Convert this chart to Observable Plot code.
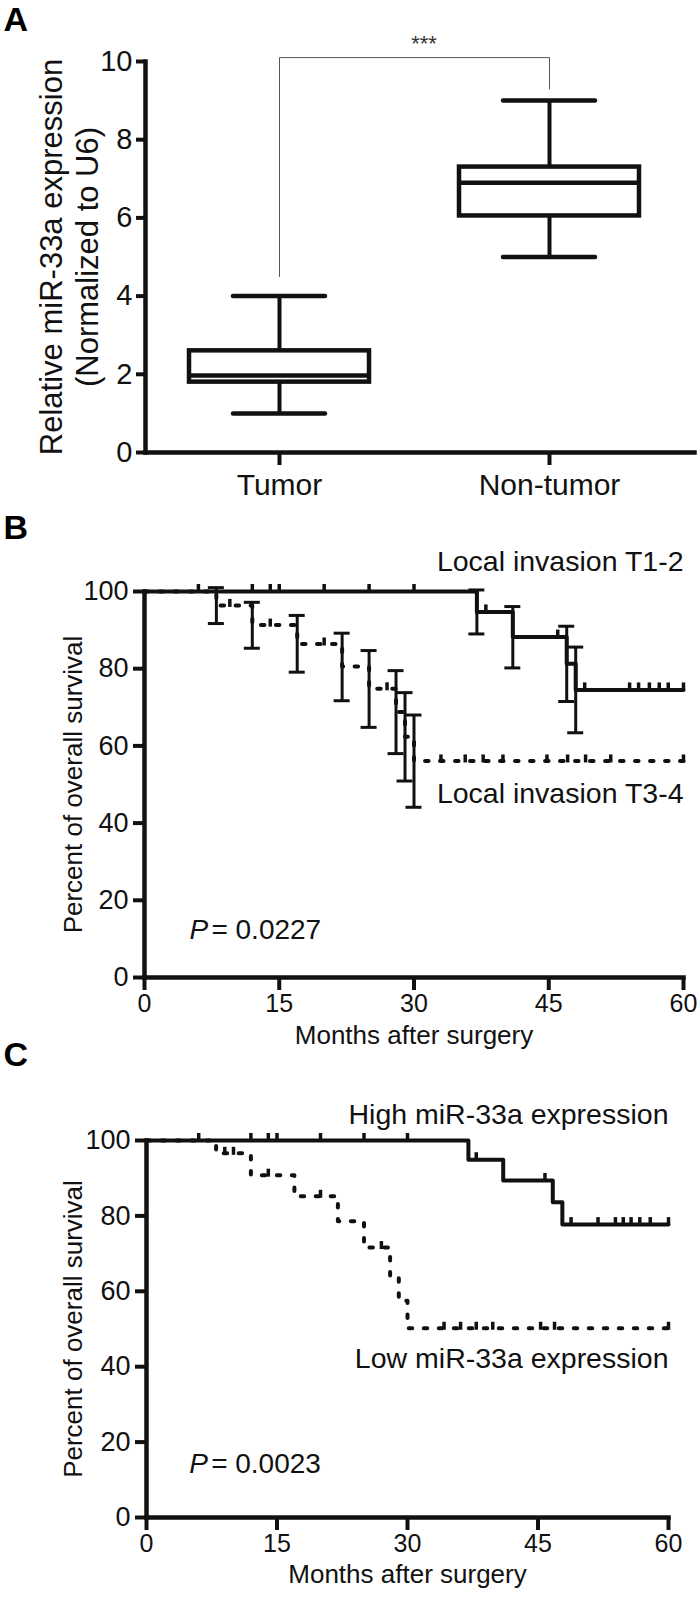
<!DOCTYPE html>
<html><head><meta charset="utf-8">
<script src="https://cdn.jsdelivr.net/npm/d3@7"></script>
<script src="https://cdn.jsdelivr.net/npm/@observablehq/plot@0.6"></script>
<style>
body{margin:0;background:#fff;}
#chart{width:700px;height:1597px;position:relative;background:#fff;}
#chart svg{display:block;overflow:visible;background:transparent;}
</style></head><body><div id="chart"></div>
<script>
// ---------- Panel A data ----------
const groups = ["Tumor", "Non-tumor"];
const boxMin = [1.0, 5.0];
const boxQ1 = [1.8, 6.05];
const boxMedian = [1.97, 6.9];
const boxQ3 = [2.6, 7.3];
const boxMax = [4.0, 9.0];
const yTicksA = [0, 2, 4, 6, 8, 10];
const sigLabel = "***";
const sigLeftY = 4.5, sigTopY = 10.1, sigRightY = 9.3, sigTextY = 10.45;
const yLabelA = "Relative miR-33a expression\n(Normalized to U6)";

// ---------- Panel B data ----------
const xTicks = [0, 15, 30, 45, 60];
const yTicksS = [0, 20, 40, 60, 80, 100];
const bT12Time = [0, 37, 41, 47, 48, 60];
const bT12Surv = [100, 94.7, 88.2, 81.3, 74.5, 74.5];
const bT12CensorTime = [6, 12, 14, 15, 20, 25, 30, 38, 46, 49, 54, 55, 56.2, 57.3, 58.3, 60];
const bT12ErrTime = [37, 41, 47, 48];
const bT12ErrLow = [89.0, 80.2, 71.5, 63.4];
const bT12ErrHigh = [100.4, 96.1, 91.0, 85.6];
const bT34Time = [0, 8, 12, 17, 22, 25, 28, 29, 30, 60];
const bT34Surv = [100, 96.4, 91.3, 86.4, 80.6, 74.8, 68.8, 62.4, 56.1, 56.1];
const bT34CensorTime = [9.5, 14, 20, 27, 33, 35.7, 37.7, 39.9, 44.8, 47.1, 49.1, 51.9, 60];
const bT34ErrTime = [8, 12, 17, 22, 25, 28, 29, 30];
const bT34ErrLow = [91.7, 85.3, 79.1, 71.7, 64.8, 58.0, 50.9, 44.1];
const bT34ErrHigh = [101.0, 97.2, 93.8, 89.2, 84.7, 79.5, 73.8, 68.0];
const bLabelHigh = "Local invasion T1-2", bLabelHighY = 107.6;
const bLabelLow = "Local invasion T3-4", bLabelLowY = 47.5;
const bPValue = "0.0227", bPx = 5.0, bPy = 12.2;

// ---------- Panel C data ----------
const cHighTime = [0, 37, 41, 46.7, 47.8, 60];
const cHighSurv = [100, 94.9, 89.4, 83.6, 77.7, 77.7];
const cHighCensorTime = [6, 12, 14, 15, 20, 25, 30, 37.9, 45.8, 48.8, 51.9, 53.9, 54.8, 55.7, 56.7, 57.9, 60];
const cLowTime = [0, 8, 12, 17, 22, 25, 28, 29, 30, 60];
const cLowSurv = [100, 96.6, 90.8, 85.2, 78.6, 71.6, 64.0, 57.5, 50.2, 50.2];
const cLowCensorTime = [9, 10, 14, 20, 27, 34.2, 36.1, 37.9, 39.8, 45.3, 46.9, 60];
const cLabelHigh = "High miR-33a expression", cLabelHighY = 106.7;
const cLabelLow = "Low miR-33a expression", cLabelLowY = 42.2;
const cPValue = "0.0023", cPx = 4.9, cPy = 14.2;

const xTitle = "Months after surgery";
const yTitleS = "Percent of overall survival";

// ---------- helpers ----------
const font = "'Liberation Sans', Arial, Helvetica, sans-serif";
const ink = "#111";
const zip2 = (a, b, ka, kb) => a.map((v, i) => ({[ka]: v, [kb]: b[i]}));
// survival value at time t for a step-after curve
const survAt = (times, surv, t) => { let s = surv[0]; for (let i = 0; i < times.length; i++) if (times[i] <= t) s = surv[i]; return s; };
const styleBase = {fontFamily: font, background: "transparent", overflow: "visible", color: ink};

const chart = document.getElementById("chart");

// ================= Panel A =================
const boxData = groups.map((g, i) => ({group: g, min: boxMin[i], q1: boxQ1[i], med: boxMedian[i], q3: boxQ3[i], max: boxMax[i]}));
const sigPath = [
  {group: groups[0], v: sigLeftY}, {group: groups[0], v: sigTopY},
  {group: groups[1], v: sigTopY}, {group: groups[1], v: sigRightY}
];
const plotA = Plot.plot({
  width: 700, height: 510,
  marginTop: 61, marginBottom: 58, marginLeft: 145, marginRight: 6,
  style: styleBase,
  x: {type: "band", domain: groups, range: [189, 639], paddingInner: 1 / 3, paddingOuter: 0, align: 0.5},
  y: {domain: [0, 10]},
  marks: [
    Plot.ruleX(boxData, {x: "group", y1: "min", y2: "q1", strokeWidth: 4, stroke: ink}),
    Plot.ruleX(boxData, {x: "group", y1: "q3", y2: "max", strokeWidth: 4, stroke: ink}),
    Plot.tickY(boxData, {x: "group", y: "min", strokeWidth: 4.5, insetLeft: 44, insetRight: 44, strokeLinecap: "round", stroke: ink}),
    Plot.tickY(boxData, {x: "group", y: "max", strokeWidth: 4.5, insetLeft: 44, insetRight: 44, strokeLinecap: "round", stroke: ink}),
    Plot.barY(boxData, {x: "group", y1: "q1", y2: "q3", fill: "white", stroke: ink, strokeWidth: 4.5}),
    Plot.tickY(boxData, {x: "group", y: "med", strokeWidth: 4.5, stroke: ink}),
    Plot.line(sigPath, {x: "group", y: "v", strokeWidth: 1, stroke: "#555"}),
    Plot.text([sigLabel], {text: d => d, y: () => sigTextY, dx: 4, fontSize: 22, fill: "#333"}),
    Plot.frame({anchor: "left", strokeWidth: 4.5, stroke: ink, strokeLinecap: "square"}),
    Plot.frame({anchor: "bottom", strokeWidth: 4.5, stroke: ink, strokeLinecap: "square"}),
    Plot.axisY({ticks: yTicksA, tickSize: 9, tickPadding: 4, fontSize: 29, strokeWidth: 4, label: null, fill: ink}),
    Plot.axisX({tickSize: 13, tickPadding: 8, fontSize: 30, strokeWidth: 4, label: null, fill: ink}),
    Plot.text([yLabelA], {text: d => d, frameAnchor: "left", textAnchor: "middle", dx: -77, rotate: -90, fontSize: 31, lineHeight: 1.15, fill: ink}),
    Plot.text(["A"], {text: d => d, frameAnchor: "top-left", textAnchor: "start", lineAnchor: "middle", dx: -142, dy: -41, fontSize: 34, fontWeight: "bold", fill: "#000"})
  ]
});
chart.appendChild(plotA);

// ================= Survival panel builder =================
function survivalPanel(opts) {
  const {height, marginTop, marginBottom, marginLeft, marginRight, letter, letterDy, titleDy,
         hiTime, hiSurv, hiCensor, loTime, loSurv, loCensor,
         hiErr, loErr, labelHigh, labelHighY, labelLow, labelLowY, pValue, px, py} = opts;
  const hiLine = zip2(hiTime, hiSurv, "t", "s");
  const loLine = zip2(loTime, loSurv, "t", "s");
  const hiC = hiCensor.map(t => ({t, s: survAt(hiTime, hiSurv, t)}));
  const loC = loCensor.map(t => ({t, s: survAt(loTime, loSurv, t)}));
  const marks = [];
  // dotted (low) curve
  marks.push(Plot.line(loLine, {x: "t", y: "s", curve: "step-after", strokeWidth: 4, stroke: ink, strokeDasharray: "3.5,11.5"}));
  marks.push(Plot.ruleX(loC, {x: "t", y1: "s", y2: "s", insetTop: -6, insetBottom: -2, strokeWidth: 3.5, stroke: ink}));
  if (loErr) {
    const e = loErr.time.map((t, i) => ({t, lo: loErr.low[i], hi: loErr.high[i]}));
    marks.push(Plot.ruleX(e, {x: "t", y1: "lo", y2: "hi", strokeWidth: 3, stroke: ink}));
    marks.push(Plot.ruleY(e, {x1: "t", x2: "t", y: "lo", insetLeft: -8, insetRight: -8, strokeWidth: 3, stroke: ink}));
    marks.push(Plot.ruleY(e, {x1: "t", x2: "t", y: "hi", insetLeft: -8, insetRight: -8, strokeWidth: 3, stroke: ink}));
  }
  // solid (high) curve
  marks.push(Plot.line(hiLine, {x: "t", y: "s", curve: "step-after", strokeWidth: 4, stroke: ink}));
  marks.push(Plot.ruleX(hiC, {x: "t", y1: "s", y2: "s", insetTop: -7, strokeWidth: 3.5, stroke: ink}));
  if (hiErr) {
    const e = hiErr.time.map((t, i) => ({t, lo: hiErr.low[i], hi: hiErr.high[i]}));
    marks.push(Plot.ruleX(e, {x: "t", y1: "lo", y2: "hi", strokeWidth: 3, stroke: ink}));
    marks.push(Plot.ruleY(e, {x1: "t", x2: "t", y: "lo", insetLeft: -8, insetRight: -8, strokeWidth: 3, stroke: ink}));
    marks.push(Plot.ruleY(e, {x1: "t", x2: "t", y: "hi", insetLeft: -8, insetRight: -8, strokeWidth: 3, stroke: ink}));
  }
  marks.push(
    Plot.frame({anchor: "left", strokeWidth: 4.5, stroke: ink, strokeLinecap: "square"}),
    Plot.frame({anchor: "bottom", strokeWidth: 4.5, stroke: ink, strokeLinecap: "square"}),
    Plot.axisY({ticks: yTicksS, tickSize: 11, tickPadding: 5, fontSize: 27, strokeWidth: 4, label: null, fill: ink}),
    Plot.axisX({ticks: xTicks, tickSize: 13, tickPadding: 4, fontSize: 25, strokeWidth: 4, label: null, fill: ink}),
    Plot.text([labelHigh], {text: d => d, x: () => 60, y: () => labelHighY, textAnchor: "end", fontSize: 28.5, fill: ink}),
    Plot.text([labelLow], {text: d => d, x: () => 60, y: () => labelLowY, textAnchor: "end", fontSize: 28.5, fill: ink}),
    Plot.text(["P"], {text: d => d, x: () => px, y: () => py, textAnchor: "start", fontSize: 28, fontStyle: "italic", fill: ink}),
    Plot.text([pValue], {text: d => "= " + d, x: () => px, y: () => py, textAnchor: "start", dx: 22, fontSize: 28, fill: ink}),
    Plot.text([xTitle], {text: d => d, frameAnchor: "bottom", textAnchor: "middle", dy: titleDy, fontSize: 26, fill: ink}),
    Plot.text([yTitleS], {text: d => d, frameAnchor: "left", textAnchor: "middle", dx: 73 - marginLeft, rotate: -90, fontSize: 26, fill: ink}),
    Plot.text([letter], {text: d => d, frameAnchor: "top-left", textAnchor: "start", lineAnchor: "middle", dx: 3 - marginLeft, dy: letterDy, fontSize: 34, fontWeight: "bold", fill: "#000"})
  );
  return Plot.plot({
    width: 700, height, marginTop, marginBottom, marginLeft, marginRight,
    style: styleBase,
    x: {domain: [0, 60]},
    y: {domain: [0, 100]},
    marks
  });
}

// ================= Panel B =================
const plotB = survivalPanel({
  height: 535, marginTop: 81, marginBottom: 68, marginLeft: 144, marginRight: 17,
  letter: "B", letterDy: -63, titleDy: 66,
  hiTime: bT12Time, hiSurv: bT12Surv, hiCensor: bT12CensorTime,
  loTime: bT34Time, loSurv: bT34Surv, loCensor: bT34CensorTime,
  hiErr: {time: bT12ErrTime, low: bT12ErrLow, high: bT12ErrHigh},
  loErr: {time: bT34ErrTime, low: bT34ErrLow, high: bT34ErrHigh},
  labelHigh: bLabelHigh, labelHighY: bLabelHighY, labelLow: bLabelLow, labelLowY: bLabelLowY,
  pValue: bPValue, px: bPx, py: bPy
});
chart.appendChild(plotB);

// ================= Panel C =================
const plotC = survivalPanel({
  height: 552, marginTop: 95, marginBottom: 80, marginLeft: 146, marginRight: 32,
  letter: "C", letterDy: -85, titleDy: 65,
  hiTime: cHighTime, hiSurv: cHighSurv, hiCensor: cHighCensorTime,
  loTime: cLowTime, loSurv: cLowSurv, loCensor: cLowCensorTime,
  hiErr: null, loErr: null,
  labelHigh: cLabelHigh, labelHighY: cLabelHighY, labelLow: cLabelLow, labelLowY: cLabelLowY,
  pValue: cPValue, px: cPx, py: cPy
});
chart.appendChild(plotC);
</script></body></html>
